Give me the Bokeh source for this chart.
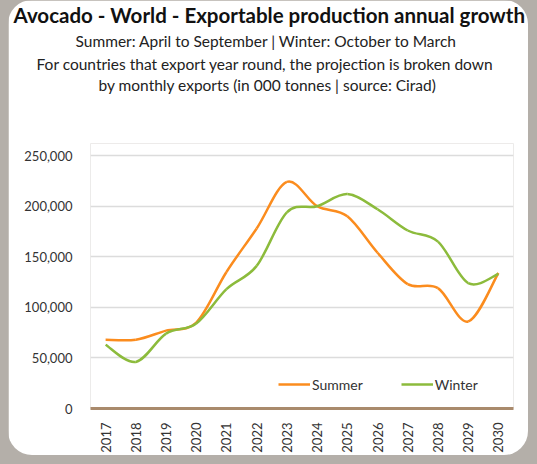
import math
from bokeh.plotting import figure
from bokeh.models import (Range1d, FixedTicker, NumeralTickFormatter, Title,
                          Legend, LegendItem, ColumnDataSource)
from bokeh.embed import file_html
from bokeh.resources import INLINE

years = list(range(2017, 2031))
summer = [68000, 68000, 77000, 85000, 135000, 178000, 224000, 200000,
          190000, 154000, 123000, 119000, 86000, 134000]
winter = [63000, 46000, 74000, 84000, 118000, 141000, 194000, 200000,
          212000, 197000, 176000, 165000, 124000, 133000]
y_ticks = [0, 50000, 100000, 150000, 200000, 250000]

title = "Avocado - World - Exportable production annual growth"
subtitles = ["Summer: April to September | Winter: October to March",
             "For countries that export year round, the projection is broken down",
             "by monthly exports (in 000 tonnes | source: Cirad)"]

FONT = "Lato"
ORANGE = "#fb8c1e"
GREEN = "#8cbb3c"

p = figure(width=520, height=455, output_backend="svg", toolbar_location=None,
           x_range=Range1d(2016.5, 2030.5), y_range=Range1d(0, 262000),
           min_border_left=82, min_border_right=15, min_border_top=0,
           min_border_bottom=47, border_fill_color="white",
           background_fill_color="white", outline_line_color=None,
           styles={"border-radius": "24px", "overflow": "hidden"})


def smooth_segments(xs, ys):
    n = len(xs)
    d = dict(x0=[], y0=[], x1=[], y1=[], cx0=[], cy0=[], cx1=[], cy1=[])
    for i in range(n - 1):
        p0 = (xs[max(i - 1, 0)], ys[max(i - 1, 0)])
        p1 = (xs[i], ys[i])
        p2 = (xs[i + 1], ys[i + 1])
        p3 = (xs[min(i + 2, n - 1)], ys[min(i + 2, n - 1)])
        d["x0"].append(p1[0]); d["y0"].append(p1[1])
        d["x1"].append(p2[0]); d["y1"].append(p2[1])
        d["cx0"].append(p1[0] + (p2[0] - p0[0]) / 6)
        d["cy0"].append(p1[1] + (p2[1] - p0[1]) / 6)
        d["cx1"].append(p2[0] - (p3[0] - p1[0]) / 6)
        d["cy1"].append(p2[1] - (p3[1] - p1[1]) / 6)
    return ColumnDataSource(d)


p.bezier(x0="x0", y0="y0", x1="x1", y1="y1", cx0="cx0", cy0="cy0",
         cx1="cx1", cy1="cy1", source=smooth_segments(years, summer),
         line_color=ORANGE, line_width=2.5)
p.bezier(x0="x0", y0="y0", x1="x1", y1="y1", cx0="cx0", cy0="cy0",
         cx1="cx1", cy1="cy1", source=smooth_segments(years, winter),
         line_color=GREEN, line_width=2.5)

nan = float("nan")
r_s = p.line(x=[nan], y=[nan], line_color=ORANGE, line_width=2.5)
r_w = p.line(x=[nan], y=[nan], line_color=GREEN, line_width=2.5)
legend = Legend(items=[LegendItem(label="Summer", renderers=[r_s], index=0),
                       LegendItem(label="Winter", renderers=[r_w], index=0)],
                orientation="horizontal", location=(188, 14),
                background_fill_alpha=0, border_line_color=None,
                label_text_font=FONT, label_text_font_size="14px",
                label_text_color="#333333", glyph_width=32, spacing=38,
                label_standoff=2, padding=0, margin=0)
p.add_layout(legend, "center")

# axes
p.xaxis.ticker = FixedTicker(ticks=years)
p.xaxis.major_label_orientation = math.pi / 2
p.xaxis.axis_line_color = "#a98a6c"
p.xaxis.axis_line_width = 3
p.xaxis.major_tick_line_color = None
p.xaxis.minor_tick_line_color = None
p.xaxis.major_label_text_font = FONT
p.xaxis.major_label_text_font_size = "13px"
p.xaxis.major_label_text_color = "#333333"
p.xaxis.major_label_standoff = 8

p.yaxis.ticker = FixedTicker(ticks=y_ticks)
p.yaxis.formatter = NumeralTickFormatter(format="0,0")
p.yaxis.axis_line_color = None
p.yaxis.major_tick_line_color = None
p.yaxis.minor_tick_line_color = None
p.yaxis.major_label_text_font = FONT
p.yaxis.major_label_text_font_size = "13px"
p.yaxis.major_label_text_color = "#333333"
p.yaxis.major_label_standoff = 12

p.xgrid.grid_line_color = None
p.ygrid.ticker = FixedTicker(ticks=y_ticks[1:])
p.ygrid.grid_line_color = "#dcdcdc"
p.ygrid.grid_line_width = 1.5

# titles stacked above the frame (first added = nearest to the frame),
# left-aligned and shifted so that they sit centred on the card
p.add_layout(Title(text=" ", align="left", text_font=FONT,
                   text_font_size="1px", standoff=47), "above")
p.add_layout(Title(text=subtitles[2], align="left", text_font=FONT,
                   text_font_size="15.5px", text_font_style="normal",
                   text_color="#222222", standoff=0, offset=8), "above")
p.add_layout(Title(text=subtitles[1], align="left", text_font=FONT,
                   text_font_size="15.5px", text_font_style="normal",
                   text_color="#222222", standoff=1, offset=-54), "above")
p.add_layout(Title(text=subtitles[0], align="left", text_font=FONT,
                   text_font_size="15.5px", text_font_style="normal",
                   text_color="#222222", standoff=6, offset=-15), "above")
p.add_layout(Title(text=title, align="left", text_font=FONT,
                   text_font_size="20.5px", text_font_style="bold",
                   text_color="#111111", standoff=0, offset=-77), "above")

html = file_html(p, INLINE)
html = html.replace("</head>",
                    "<style>html,body{background:#b4afa9 !important;margin:0 !important;"
                    "padding:0 0 0 4px !important;}</style></head>", 1)
open("out.html", "w").write(html)
